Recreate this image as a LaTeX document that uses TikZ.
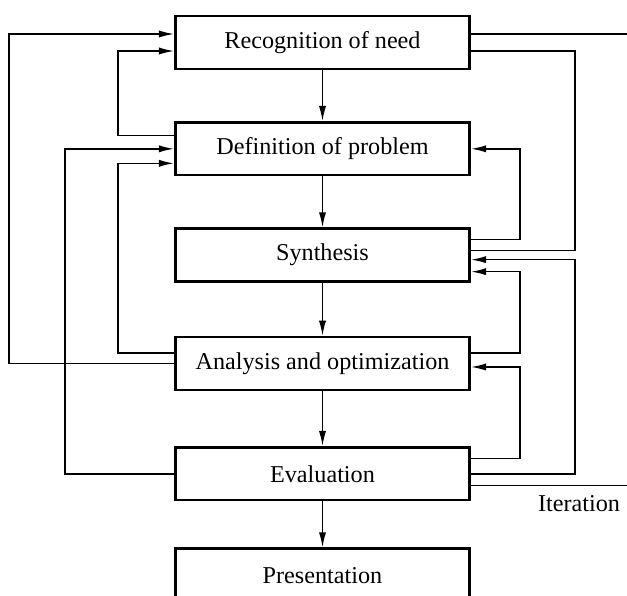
\documentclass[tikz,border=0pt]{standalone}
\usepackage{fontspec}
\setmainfont{Liberation Serif}
\usetikzlibrary{arrows.meta, positioning}

\begin{document}
\begin{tikzpicture}[
    node distance=1.275cm,
    stage/.style={rectangle, minimum width=7.36cm, minimum height=1.32cm, text centered, draw=black, line width=1.8pt, font=\fontsize{17.2}{20}\selectfont},
    arrow/.style={-{Latex[length=3.8mm, width=1.8mm]}, line width=1.1pt},
    link/.style={line width=1.1pt},
    note/.style={font=\fontsize{17.2}{20}\selectfont}
]
\useasboundingbox (0,0) rectangle (15.675,-14.9);
\clip (0,0) rectangle (15.675,-14.9);

% --- Main chain ---
\node (need) [stage] at (8.0625,-1.0625) {Recognition of need};
\node (problem) [stage, below=of need] {Definition of problem};
\node (synth) [stage, below=of problem] {Synthesis};
\node (analysis) [stage, below=1.325cm of synth] {Analysis and optimization};
\node (eval) [stage, below=1.375cm of analysis] {Evaluation};
\node (present) [stage, below=1.15cm of eval] {Presentation};

% --- Arrows down ---
\draw [arrow] (need) -- (problem);
\draw [arrow] (problem) -- (synth);
\draw [arrow] (synth) -- (analysis);
\draw [arrow] (analysis) -- (eval);
\draw [arrow] (eval) -- (present);

% --- Feedback on the left ---
\draw [arrow] (analysis.west) -- ++(-4.125,0) |- ([yshift=2.125mm]need.west);
\draw [arrow] ([yshift=3.375mm]problem.west) -- ++(-1.4,0) |- ([yshift=-2.125mm]need.west);
\draw [arrow] (eval.west) -- ++(-2.725,0) |- (problem.west);
\draw [arrow] ([yshift=2.625mm]analysis.west) -- ++(-1.4,0) |- ([yshift=-3.625mm]problem.west);

% --- Feedback on the right ---
\draw [link] ([yshift=-2.125mm]need.east) -- ++(2.6,0) |- ([yshift=1.125mm]synth.east);
\draw [arrow] ([yshift=3.875mm]synth.east) -- ++(1.225,0) |- (problem.east);
\draw [arrow] (eval.east) -- ++(2.6,0) |- ([yshift=-1.125mm]synth.east);
\draw [arrow] ([yshift=2.625mm]analysis.east) -- ++(1.225,0) |- ([yshift=-4.125mm]synth.east);
\draw [arrow] ([yshift=3.875mm]eval.east) -- ++(1.225,0) |- ([yshift=-0.875mm]analysis.east);

% Iteration lines (leave the picture)
\draw [link] ([yshift=2.125mm]need.east) -- ++(3.9,0) coordinate (top_end);
\draw [link] ([yshift=-2.875mm]eval.east) -- ++(3.9,0) coordinate (iter_end);
\node (iter_label) [note] at ([xshift=-1.2cm, yshift=-0.45cm]iter_end) {Iteration};

\end{tikzpicture}
\end{document}
